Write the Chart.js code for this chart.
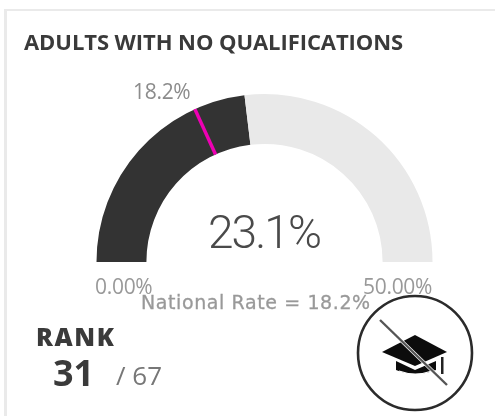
<!DOCTYPE html>
<html>
<head>
<meta charset="utf-8">
<script src="https://cdn.jsdelivr.net/npm/chart.js@4"></script>
<style>
html,body{margin:0;padding:0;background:#fff;width:495px;height:416px;overflow:hidden}
#frameTop{position:absolute;left:4px;top:9px;width:491px;height:2px;background:#eaeaea}
#frameLeft{position:absolute;left:4px;top:9px;width:3px;height:407px;background:#eaeaea}
canvas{position:absolute;left:0;top:0}
.t{position:absolute;white-space:nowrap;line-height:1;filter:blur(.35px)}
#title{left:24px;top:30px;font:700 22px/1 "Open Sans";color:#3a3a3a;letter-spacing:-.07px}
#target{left:133px;top:81px;font:400 21px/1 "Open Sans";color:#8c8c8c;letter-spacing:-.3px}
#value{left:208px;top:209px;font:300 46px/1 Roboto;color:#4a4a4a;letter-spacing:-1.9px}
#minL{left:95px;top:276px;font:400 21px/1 "Open Sans";color:#999;letter-spacing:-.3px}
#maxL{left:363px;top:276px;font:400 21px/1 "Open Sans";color:#999;letter-spacing:-.3px}
#nat{left:141px;top:293px;font:400 19px/1 "DejaVu Sans";color:#999;letter-spacing:.6px;-webkit-text-stroke:.3px #999}
#rank{left:36px;top:324px;font:800 25px/1 "Open Sans";color:#3a3a3a;letter-spacing:1.6px}
#rankV{left:53px;top:355px;font:700 36px/1 "Open Sans";color:#3a3a3a}
#rankT{left:116px;top:362px;font:400 26px/1 "Open Sans";color:#777}
svg{position:absolute;left:0;top:0;filter:blur(.35px)}
</style>
</head>
<body>
<div id="frameTop"></div><div id="frameLeft"></div>
<canvas id="c" width="495" height="416"></canvas>
<div class="t" id="title"></div>
<div class="t" id="target"></div>
<div class="t" id="value"></div>
<div class="t" id="minL"></div>
<div class="t" id="maxL"></div>
<div class="t" id="nat"></div>
<div class="t" id="rank"></div>
<div class="t" id="rankV"></div>
<div class="t" id="rankT"></div>
<svg width="495" height="416">
  <circle cx="415" cy="353" r="57" fill="none" stroke="#2b2b2b" stroke-width="2.6"/>
  <path d="M415 335 L447 352 L415 366 L382 352 Z" fill="#0c0c0c"/>
  <path d="M396 361 L396 370 Q415 378 436 370 L436 361 L415 370 Z" fill="#0c0c0c"/>
  <path d="M399 371 Q415 377 432 371" fill="none" stroke="#fff" stroke-width="1.2"/>
  <rect x="441" y="357" width="2.5" height="17" fill="#222"/>
  <path d="M380 320 L447 385" stroke="#fff" stroke-width="3.6"/>
  <path d="M380 320 L447 385" stroke="#555" stroke-width="2.4"/>
</svg>
<script>
const titleText = "ADULTS WITH NO QUALIFICATIONS";
const gaugeLabels = ["Value", "Remainder"];
const gaugeValues = [23.1, 26.9];
const targetValue = 18.2;
const gaugeMax = 50;
const minLabel = "0.00%";
const maxLabel = "50.00%";
const valueLabel = "23.1%";
const targetLabel = "18.2%";
const nationalLabel = "National Rate = 18.2%";
const rankHeading = "RANK";
const rankValue = "31";
const rankTotal = "/ 67";

const setText = (id, s) => document.getElementById(id).textContent = s;
setText("title", titleText); setText("target", targetLabel); setText("value", valueLabel);
setText("minL", minLabel); setText("maxL", maxLabel); setText("nat", nationalLabel);
setText("rank", rankHeading); setText("rankV", rankValue); setText("rankT", rankTotal);

const targetLine = {
  id: "targetLine",
  afterDatasetsDraw(chart) {
    const arc = chart.getDatasetMeta(0).data[0];
    if (!arc) return;
    const { x, y, innerRadius, outerRadius } = arc.getProps(["x","y","innerRadius","outerRadius"], true);
    const a = -Math.PI + Math.PI * targetValue / gaugeMax;
    const ctx = chart.ctx;
    ctx.save();
    ctx.strokeStyle = "#ee00b4";
    ctx.lineWidth = 3.5;
    ctx.beginPath();
    ctx.moveTo(x + Math.cos(a) * innerRadius, y + Math.sin(a) * innerRadius);
    ctx.lineTo(x + Math.cos(a) * outerRadius, y + Math.sin(a) * outerRadius);
    ctx.stroke();
    ctx.restore();
  }
};

new Chart(document.getElementById("c"), {
  type: "doughnut",
  data: {
    labels: gaugeLabels,
    datasets: [{ data: gaugeValues, backgroundColor: ["#333333", "#e9e9e9"], borderWidth: 0 }]
  },
  options: {
    responsive: false,
    animation: false,
    rotation: -90,
    circumference: 180,
    cutout: "70.3%",
    layout: { padding: { left: 96, right: 62, top: 94, bottom: 154 } },
    plugins: { legend: { display: false }, tooltip: { enabled: false } }
  },
  plugins: [targetLine]
});
</script>
</body>
</html>
